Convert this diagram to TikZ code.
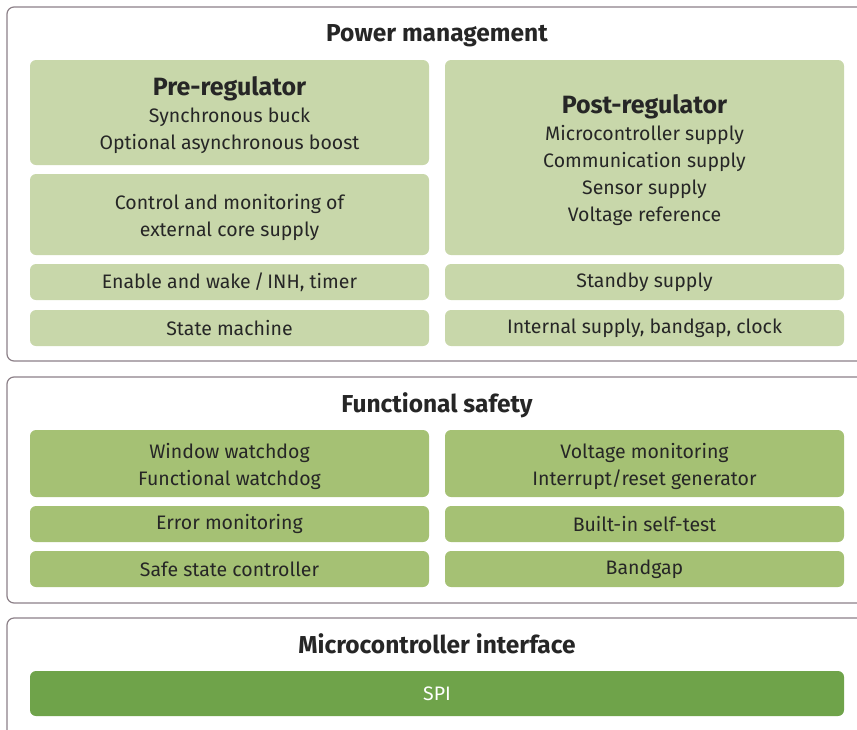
\documentclass[tikz,border=0pt]{standalone}
\usepackage{fontspec}
\setmainfont{Fira Sans}
\definecolor{bordercol}{HTML}{8C8088}
\definecolor{lightg}{HTML}{C8D7AA}
\definecolor{midg}{HTML}{A5C174}
\definecolor{darkg}{HTML}{6FA34A}
\definecolor{txt}{HTML}{262626}
\begin{document}
\begin{tikzpicture}[x=1pt,y=-1pt,
  outer/.style={draw=bordercol, line width=1.2pt, rounded corners=7pt},
  bodyfont/.style={font=\fontsize{19.5}{27}\selectfont},
  blk/.style={rounded corners=6pt, text=txt, align=center, inner sep=0pt,
    minimum width=399pt, bodyfont},
  light/.style={blk, fill=lightg},
  mid/.style={blk, fill=midg},
  dark/.style={blk, fill=darkg, text=white, minimum width=814pt},
  txtlbl/.style={text=txt, align=center, inner sep=0pt, bodyfont, yshift=-2.5pt},
  sectitle/.style={text=txt, inner sep=0pt, font=\fontsize{24.5}{28}\selectfont\bfseries},
  hd/.style={font=\fontsize{25}{29}\selectfont\bfseries}
]
\useasboundingbox (0,0) rectangle (857,729);
\clip (0,0) rectangle (857,729);
% outer frames
\draw[outer] (7,7) rectangle (880,361);
\draw[outer] (7,377) rectangle (880,603);
\draw[outer] (7,618) rectangle (880,760);
% Power management
\node[sectitle] (pmt) at (437,36) {Power management};
\node[light, minimum height=105pt,
  label={[txtlbl]center:{{\fontsize{25}{29}\selectfont\bfseries Pre-regulator}\\Synchronous buck\\Optional asynchronous boost}}] (pre) at (229.5,112.5) {};
\node[light, minimum height=81pt,
  label={[txtlbl]center:{Control and monitoring of\\external core supply}}] (ctrl) at (229.5,214.5) {};
\node[light, minimum height=36pt] (en) at (229.5,282) {Enable and wake\,/\,INH, timer};
\node[light, minimum height=36pt] (sm) at (229.5,328) {State machine};
\node[light, minimum height=195pt,
  label={[txtlbl]center:{{\fontsize{25}{29}\selectfont\bfseries Post-regulator}\\Microcontroller supply\\Communication supply\\Sensor supply\\Voltage reference}}] (post) at (644.5,157.5) {};
\node[light, minimum height=36pt] (sb) at (644.5,282) {Standby supply};
\node[light, minimum height=36pt] (isup) at (644.5,328) {Internal supply, bandgap, clock};
% Functional safety
\node[sectitle] (fst) at (437,405.5) {Functional safety};
\node[mid, minimum height=67pt,
  label={[txtlbl]center:{Window watchdog\\Functional watchdog}}] (wd) at (229.5,463.5) {};
\node[mid, minimum height=36pt] (em) at (229.5,524) {Error monitoring};
\node[mid, minimum height=36pt] (ss) at (229.5,569) {Safe state controller};
\node[mid, minimum height=67pt,
  label={[txtlbl]center:{Voltage monitoring\\Interrupt/reset generator}}] (vm) at (644.5,463.5) {};
\node[mid, minimum height=36pt] (bist) at (644.5,524) {Built-in self-test};
\node[mid, minimum height=36pt] (bg) at (644.5,569) {Bandgap};
% Microcontroller interface
\node[sectitle] (mit) at (437,644) {Microcontroller interface};
\node[dark, minimum height=45pt] (spi) at (437,693.5) {SPI};
\end{tikzpicture}
\end{document}
